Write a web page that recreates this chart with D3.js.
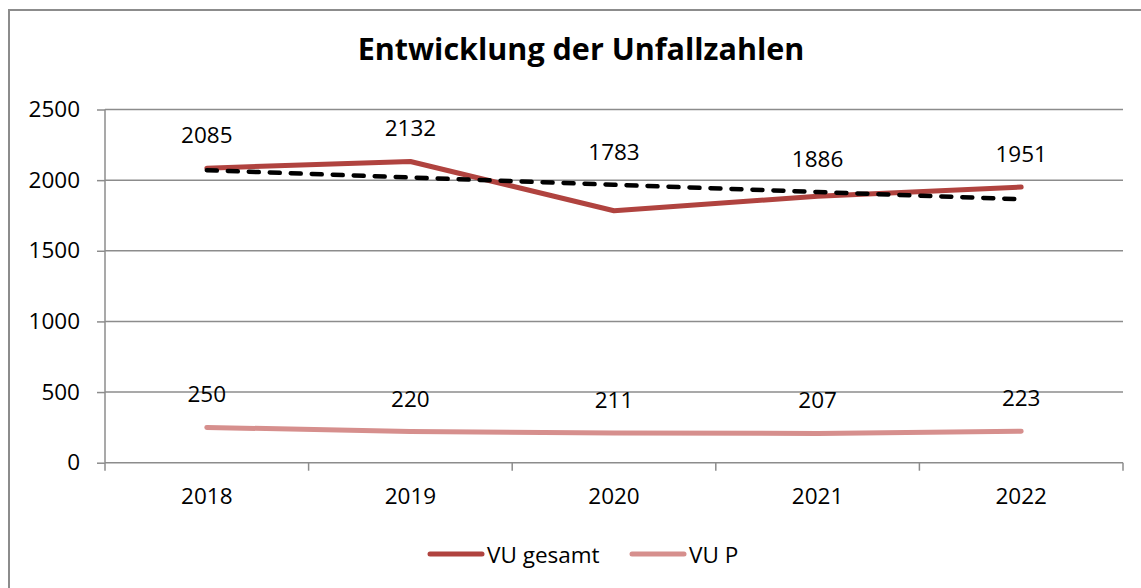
<!DOCTYPE html>
<html><head><meta charset="utf-8">
<script src="https://cdn.jsdelivr.net/npm/d3@7"></script>
<style>
html,body{margin:0;padding:0;background:#fff;}
svg{display:block;font-family:"Open Sans",sans-serif;}
</style></head>
<body><svg id="c" width="1141" height="588"></svg>
<script>
const years = ["2018","2019","2020","2021","2022"];
const vuGesamt = [2085, 2132, 1783, 1886, 1951];
const vuP = [250, 220, 211, 207, 223];
const yTicks = [0, 500, 1000, 1500, 2000, 2500];
const seriesNames = ["VU gesamt", "VU P"];
const title = "Entwicklung der Unfallzahlen";

const svg = d3.select("#c");
const W = 1141, H = 588;
const m = {l:105, r:1123, t:109.5, b:462.7};
const FS = 22.5;
const FF = "'Open Sans',sans-serif";

// outer border
svg.append("rect").attr("x",9).attr("y",10).attr("width",W+5).attr("height",H+5)
  .attr("fill","none").attr("stroke","#8c8c8c").attr("stroke-width",2);

const x = d3.scaleBand().domain(years).range([m.l, m.r]);
const y = d3.scaleLinear().domain([0,2500]).range([m.b, m.t]);
const cx = d => x(d) + x.bandwidth()/2;

// gridlines
svg.append("g").selectAll("line").data(yTicks.filter(t=>t>0)).join("line")
  .attr("x1",m.l).attr("x2",m.r).attr("y1",d=>y(d)).attr("y2",d=>y(d))
  .attr("stroke","#8c8c8c").attr("stroke-width",1.5);

// y axis
const yAx = svg.append("g").attr("transform",`translate(${m.l},0)`)
  .call(d3.axisLeft(y).tickValues(yTicks).tickSize(8).tickPadding(17).tickFormat(d3.format("d")));
yAx.select(".domain").attr("stroke","#8c8c8c").attr("stroke-width",1.5).attr("d",`M0,${m.t}V${m.b}`);
yAx.selectAll(".tick line").attr("stroke","#8c8c8c").attr("stroke-width",1.5);
yAx.selectAll(".tick text").attr("font-size",FS).attr("fill","#000").attr("font-family",FF);

// x axis
const xAx = svg.append("g").attr("transform",`translate(0,${m.b})`)
  .call(d3.axisBottom(x).tickSize(0).tickPadding(25));
xAx.select(".domain").remove();
xAx.selectAll(".tick text").attr("font-size",FS).attr("fill","#000").attr("font-family",FF);
svg.append("line").attr("x1",m.l).attr("x2",m.r).attr("y1",m.b).attr("y2",m.b)
  .attr("stroke","#8c8c8c").attr("stroke-width",1.5);
const bounds = years.map(d=>x(d)).concat([m.r]);
svg.append("g").selectAll("line").data(bounds).join("line")
  .attr("x1",d=>d).attr("x2",d=>d).attr("y1",m.b).attr("y2",m.b+8)
  .attr("stroke","#8c8c8c").attr("stroke-width",1.5);

// trend line (linear regression of VU gesamt)
const n = vuGesamt.length;
const xs = d3.range(1,n+1);
const mx = d3.mean(xs), my = d3.mean(vuGesamt);
const slope = d3.sum(xs.map((v,i)=>(v-mx)*(vuGesamt[i]-my))) / d3.sum(xs.map(v=>(v-mx)**2));
const trend = xs.map(v => my + slope*(v-mx));

const line = d3.line().x((d,i)=>cx(years[i])).y(d=>y(d));

const cG = "#b0433f", cP = "#d68f8d";
svg.append("path").datum(vuP).attr("d",line).attr("fill","none")
  .attr("stroke",cP).attr("stroke-width",5).attr("stroke-linecap","round").attr("stroke-linejoin","round");
svg.append("path").datum(vuGesamt).attr("d",line).attr("fill","none")
  .attr("stroke",cG).attr("stroke-width",5).attr("stroke-linecap","round").attr("stroke-linejoin","round");
svg.append("path").datum(trend).attr("d",line).attr("fill","none")
  .attr("stroke","#000").attr("stroke-width",4.5).attr("stroke-dasharray","10,11").attr("stroke-linecap","round");

// labels
svg.append("g").selectAll("text").data(vuGesamt).join("text")
  .attr("x",(d,i)=>cx(years[i]))
  .attr("y",(d,i)=>y(Math.max(d,trend[i])) - 25)
  .attr("text-anchor","middle").attr("font-size",FS).text(d=>d);
svg.append("g").selectAll("text").data(vuP).join("text")
  .attr("x",(d,i)=>cx(years[i]))
  .attr("y",(d,i)=>y(d) - 25)
  .attr("text-anchor","middle").attr("font-size",FS).text(d=>d);

// title
svg.append("text").attr("x",581).attr("y",60).attr("text-anchor","middle")
  .attr("font-size",30.5).attr("font-weight","bold").text(title);

// legend
const leg = svg.append("g");
const legItems = [{name:seriesNames[0], c:cG, x:430},{name:seriesNames[1], c:cP, x:632}];
legItems.forEach(it=>{
  leg.append("line").attr("x1",it.x).attr("x2",it.x+52).attr("y1",554).attr("y2",554)
    .attr("stroke",it.c).attr("stroke-width",5).attr("stroke-linecap","round");
  leg.append("text").attr("x",it.x+57).attr("y",562.5).attr("font-size",FS).text(it.name);
});
</script></body></html>
